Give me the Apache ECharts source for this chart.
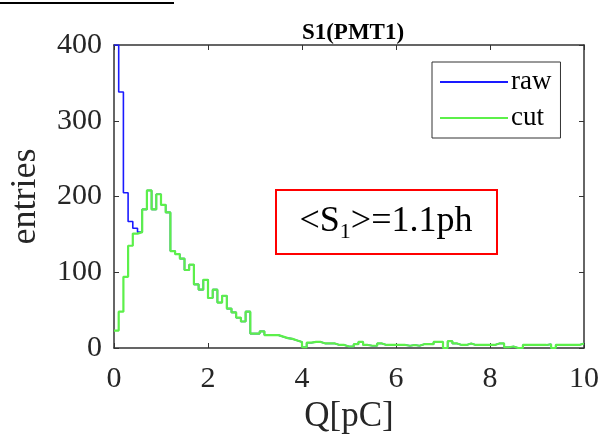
<!DOCTYPE html>
<html>
<head>
<meta charset="utf-8">
<script src="https://cdn.jsdelivr.net/npm/echarts@6/dist/echarts.min.js"></script>
<style>html,body{margin:0;padding:0;background:#fff}#c{width:602px;height:439px}</style>
</head>
<body>
<div id="c"></div>
<script>
// Histogram bins: 0.1 pC wide from 0 to 10 pC
var binStart = 0;
var binWidth = 0.1;
var cutCounts = [
  23, 48, 94, 135, 151, 153, 183, 208, 183, 203,
  189, 179, 128, 124, 118, 103, 110, 84, 77, 90,
  66, 77, 60, 69, 52, 47, 40, 35, 48, 19,
  19, 22, 17, 17, 17, 15, 13, 12, 10, 8,
  1, 7, 8, 8, 6, 6, 6, 4, 4, 2,
  2, 5, 8, 4, 3, 3, 6, 4, 4, 4,
  4, 4, 3, 4, 3, 5, 5, 5, 8, 8,
  0, 9, 6, 4, 4, 6, 4, 4, 4, 4,
  4, 6, 6, 1, 2, 0, 0, 4, 4, 4,
  4, 4, 5, 0, 4, 4, 4, 4, 4, 6
];
var rawFirstBins = [400, 338, 205, 167, 158];
var rawCounts = rawFirstBins.concat(cutCounts.slice(rawFirstBins.length));
var xTicks = [0, 2, 4, 6, 8, 10];
var yTicks = [0, 100, 200, 300, 400];
var seriesNames = ['raw', 'cut'];
var titleText = 'S1(PMT1)';
var xName = 'Q[pC]';
var yName = 'entries';

function stairs(counts) {
  var pts = [];
  for (var i = 0; i < counts.length; i++) {
    pts.push([+(binStart + i * binWidth).toFixed(2), counts[i]]);
  }
  pts.push([+(binStart + counts.length * binWidth).toFixed(2), counts[counts.length - 1]]);
  return pts;
}

var serif = 'Liberation Serif, Times New Roman, serif';
var axisColor = '#333333';
var chart = echarts.init(document.getElementById('c'));
chart.setOption({
  animation: false,
  backgroundColor: '#ffffff',
  title: {
    text: titleText, left: 348, textAlign: 'center', top: 17,
    textStyle: {fontFamily: serif, fontWeight: 'bold', fontSize: 23, color: '#000'}
  },
  grid: {left: 112, right: 18, top: 45, bottom: 91},
  legend: {
    orient: 'vertical', left: 432, top: 62,
    data: [{name: seriesNames[0], icon: 'rect'}, {name: seriesNames[1], icon: 'rect'}],
    borderColor: '#333', borderWidth: 1,
    padding: [5, 9, 5, 8],
    itemGap: 6, itemWidth: 68, itemHeight: 2,
    textStyle: {fontFamily: serif, fontSize: 27, lineHeight: 30, color: '#000', padding: [0,0,0,-2]}
  },
  xAxis: [{
    type: 'value', min: 0, max: 10, interval: 2,
    name: xName, nameLocation: 'middle', nameGap: 44,
    nameTextStyle: {fontFamily: serif, fontSize: 35, color: '#262626'},
    axisLine: {show: true, onZero: false, lineStyle: {color: axisColor, width: 1.5}},
    axisTick: {show: true, inside: true, length: 5, lineStyle: {color: axisColor}},
    axisLabel: {fontFamily: serif, fontSize: 30, color: '#262626', margin: 16,
      formatter: function (v) { return xTicks.indexOf(v) >= 0 ? String(v) : ''; }},
    splitLine: {show: false}
  }, {
    type: 'value', min: 0, max: 10, interval: 2, position: 'top',
    axisLine: {show: true, onZero: false, lineStyle: {color: axisColor, width: 1.5}},
    axisTick: {show: true, inside: true, length: 5, lineStyle: {color: axisColor}},
    axisLabel: {show: false}, splitLine: {show: false}
  }],
  yAxis: [{
    type: 'value', min: 0, max: 400, interval: 100,
    name: yName, nameLocation: 'middle', nameGap: 70, nameRotate: 90,
    nameTextStyle: {fontFamily: serif, fontSize: 36, color: '#262626'},
    axisLine: {show: true, onZero: false, lineStyle: {color: axisColor, width: 1.5}},
    axisTick: {show: true, inside: true, length: 5, lineStyle: {color: axisColor}},
    axisLabel: {fontFamily: serif, fontSize: 30, color: '#262626', margin: 12,
      formatter: function (v) { return yTicks.indexOf(v) >= 0 ? String(v) : ''; }},
    splitLine: {show: false}
  }, {
    type: 'value', min: 0, max: 400, interval: 100, position: 'right',
    axisLine: {show: true, onZero: false, lineStyle: {color: axisColor, width: 1.5}},
    axisTick: {show: true, inside: true, length: 5, lineStyle: {color: axisColor}},
    axisLabel: {show: false}, splitLine: {show: false}
  }],
  series: [{
    name: seriesNames[0], type: 'line', step: 'end', symbol: 'none', showSymbol: false,
    data: stairs(rawCounts), clip: true,
    lineStyle: {color: '#1a1aff', width: 1.6}, itemStyle: {color: '#1a1aff'}, z: 2
  }, {
    name: seriesNames[1], type: 'line', step: 'end', symbol: 'none', showSymbol: false,
    data: stairs(cutCounts), clip: true,
    lineStyle: {color: '#5cf04a', width: 2.2}, itemStyle: {color: '#5cf04a'}, z: 3
  }],
  graphic: [{
    type: 'line', shape: {x1: 0, y1: 3, x2: 174, y2: 3},
    style: {stroke: '#000', lineWidth: 2}
  }, {
    type: 'rect', shape: {x: 276, y: 190, width: 221, height: 64},
    style: {fill: '#fff', stroke: '#ff0000', lineWidth: 2}, z: 10
  }, {
    type: 'text', x: 386, y: 222, z: 11,
    style: {
      text: '<S{sub|1}>=1.1ph', align: 'center', verticalAlign: 'middle',
      fontFamily: serif, fontSize: 36, fill: '#000',
      rich: {sub: {fontFamily: serif, fontSize: 22, padding: [20, 0, 0, 0], fill: '#000'}}
    }
  }]
});
</script>
</body>
</html>
